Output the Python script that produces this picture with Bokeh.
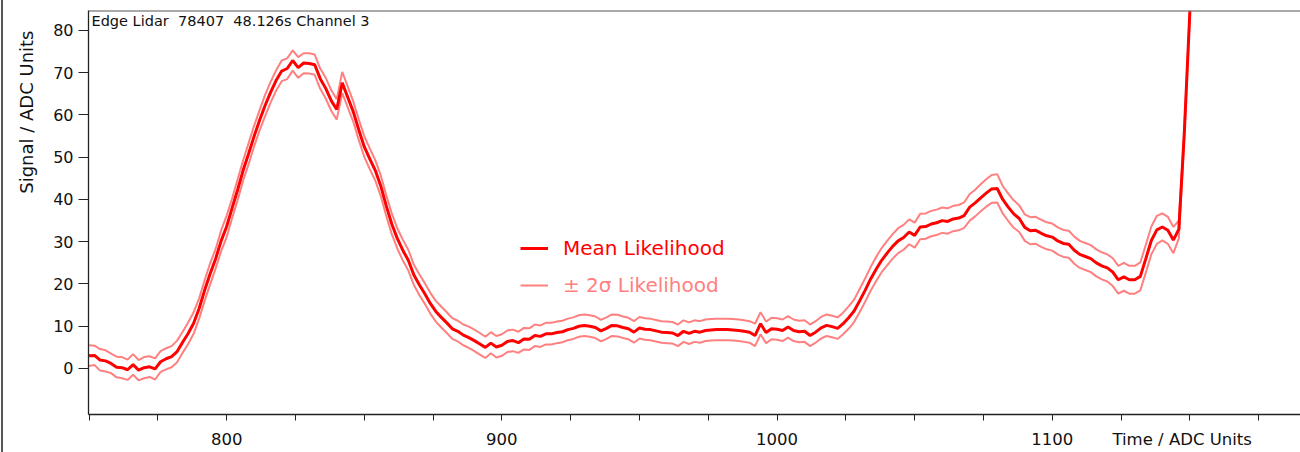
import math
from bokeh.plotting import figure
from bokeh.models import Range1d, FixedTicker, Label, Legend, LegendItem, Span, Title
from bokeh.embed import file_html
from bokeh.resources import INLINE

# ---- data ----
time_adc = list(range(750, 1151, 2))

mean_likelihood = [
    3.0, 3.1, 2.0, 1.8, 1.2, 0.3, 0.2, -0.3, 0.9, -0.4,          # 750
    0.2, 0.4, -0.1, 1.6, 2.3, 2.8, 4.0, 6.2, 8.3, 10.7,          # 770
    14.2, 18.5, 22.4, 26.0, 30.2, 33.6, 38.0, 42.3, 46.9, 50.9,  # 790
    55.0, 58.8, 62.3, 65.4, 68.2, 70.4, 71.0, 72.9, 71.2, 72.3,  # 810
    72.2, 71.9, 68.6, 66.3, 63.4, 61.3, 67.6, 64.2, 60.8, 56.5,  # 830
    52.5, 49.6, 46.9, 43.2, 38.5, 34.2, 30.8, 28.0, 25.6, 22.2,  # 850
    19.8, 17.7, 15.4, 13.5, 12.1, 10.8, 9.4, 8.8, 7.9, 7.3,      # 870
    6.6, 5.8, 5.0, 6.0, 5.1, 5.5, 6.4, 6.6, 6.1, 7.0,            # 890
    6.9, 7.8, 7.6, 8.2, 8.2, 8.5, 8.7, 9.2, 9.5, 10.0,           # 910
    10.2, 10.0, 9.7, 8.9, 9.5, 10.2, 10.1, 9.7, 9.4, 8.6,        # 930
    9.6, 9.3, 9.2, 8.9, 8.6, 8.5, 8.4, 7.8, 8.8, 8.3,            # 950
    8.8, 8.6, 9.0, 9.1, 9.2, 9.2, 9.2, 9.1, 9.0, 8.8,            # 970
    8.6, 7.8, 10.6, 8.5, 9.4, 9.3, 9.0, 9.8, 9.0, 8.7,           # 990
    8.8, 7.8, 8.6, 9.6, 10.2, 9.9, 9.5, 10.6, 12.0, 13.6,        # 1010
    16.0, 18.5, 21.2, 23.5, 25.6, 27.3, 28.9, 30.2, 31.0, 32.3,  # 1030
    31.5, 33.5, 33.6, 34.2, 34.5, 35.0, 34.8, 35.4, 35.6, 36.2,  # 1050
    38.2, 39.2, 40.4, 41.5, 42.5, 42.6, 40.0, 38.2, 36.6, 35.5,  # 1070
    33.4, 32.6, 32.7, 32.0, 31.4, 31.1, 30.2, 29.6, 29.4, 28.0,  # 1090
    27.0, 26.5, 26.0, 25.0, 24.3, 23.8, 22.8, 21.0, 21.7, 21.0,  # 1110
    21.0, 21.8, 26.0, 30.3, 32.8, 33.5, 32.7, 30.4, 33.0, 56.0,  # 1130
    84.5,                                                        # 1150
]

upper_2sigma = [
    5.5, 5.4, 4.6, 4.3, 3.5, 2.8, 2.7, 2.1, 3.4, 2.0,
    2.7, 2.9, 2.4, 4.1, 4.8, 5.3, 6.6, 8.7, 10.9, 13.3,
    16.6, 20.9, 24.9, 28.3, 32.7, 36.2, 40.3, 44.8, 49.3, 53.4,
    57.5, 61.2, 64.8, 67.9, 70.6, 72.9, 73.4, 75.3, 73.7, 74.6,
    74.6, 74.3, 71.0, 68.8, 65.9, 63.7, 70.2, 66.7, 63.2, 59.0,
    55.0, 52.1, 49.3, 45.7, 41.0, 36.7, 33.2, 30.5, 28.1, 24.6,
    22.3, 20.2, 17.9, 16.0, 14.6, 13.3, 11.9, 11.3, 10.4, 9.9,
    9.2, 8.4, 7.5, 8.6, 7.7, 8.1, 9.0, 9.2, 8.7, 9.6,
    9.5, 10.4, 10.2, 10.8, 10.8, 11.1, 11.3, 11.8, 12.1, 12.6,
    12.8, 12.6, 12.3, 11.5, 12.1, 12.8, 12.7, 12.3, 12.0, 11.2,
    12.2, 11.9, 11.8, 11.5, 11.2, 11.1, 11.0, 10.4, 11.4, 10.9,
    11.4, 11.2, 11.6, 11.7, 11.8, 11.8, 11.8, 11.7, 11.6, 11.4,
    11.2, 10.6, 13.3, 11.1, 12.0, 11.9, 11.6, 12.4, 11.6, 11.3,
    11.4, 10.4, 11.2, 12.2, 12.8, 12.5, 12.1, 13.2, 14.7, 16.3,
    18.8, 21.3, 24.0, 26.4, 28.5, 30.2, 31.8, 33.2, 34.0, 35.3,
    34.5, 36.6, 36.7, 37.3, 37.6, 38.1, 37.9, 38.5, 38.7, 39.3,
    41.3, 42.3, 43.6, 44.8, 45.8, 46.0, 43.2, 41.4, 39.8, 38.6,
    36.5, 35.8, 35.9, 35.2, 34.6, 34.3, 33.4, 32.8, 32.6, 31.2,
    30.2, 29.7, 29.2, 28.2, 27.5, 27.0, 26.1, 24.3, 25.0, 24.3,
    24.3, 25.1, 29.3, 33.6, 36.1, 36.7, 35.9, 33.5, 35.0, 56.8,
    85.0,
]

lower_2sigma = [
    0.6, 0.8, -0.5, -0.7, -1.1, -2.1, -2.3, -2.7, -1.5, -2.8,
    -2.3, -2.0, -2.6, -0.8, -0.2, 0.3, 1.5, 3.7, 5.8, 8.2,
    11.8, 16.0, 19.9, 23.7, 27.8, 31.1, 35.6, 39.9, 44.5, 48.4,
    52.6, 56.4, 59.8, 63.0, 65.8, 68.0, 68.5, 70.5, 68.8, 69.9,
    69.8, 69.5, 66.2, 63.9, 61.0, 58.9, 65.2, 61.8, 58.4, 54.1,
    50.1, 47.2, 44.5, 40.8, 36.1, 31.8, 28.4, 25.6, 23.2, 19.8,
    17.4, 15.3, 13.0, 11.1, 9.7, 8.4, 7.0, 6.4, 5.5, 4.9,
    4.1, 3.3, 2.5, 3.6, 2.6, 3.0, 3.9, 4.1, 3.7, 4.5,
    4.4, 5.3, 5.1, 5.7, 5.7, 6.0, 6.2, 6.7, 7.0, 7.5,
    7.7, 7.5, 7.2, 6.4, 7.0, 7.7, 7.6, 7.2, 6.9, 6.1,
    7.1, 6.8, 6.7, 6.4, 6.1, 6.0, 5.9, 5.3, 6.3, 5.8,
    6.3, 6.1, 6.5, 6.6, 6.7, 6.7, 6.7, 6.6, 6.5, 6.3,
    6.1, 5.3, 8.1, 6.0, 6.9, 6.8, 6.5, 7.3, 6.5, 6.2,
    6.3, 5.3, 6.1, 7.1, 7.7, 7.4, 7.0, 8.1, 9.4, 11.0,
    13.3, 15.8, 18.4, 20.7, 22.8, 24.4, 26.0, 27.3, 28.1, 29.4,
    28.6, 30.6, 30.7, 31.3, 31.6, 32.1, 31.9, 32.5, 32.7, 33.3,
    35.0, 36.0, 37.2, 38.3, 39.2, 39.3, 36.7, 34.9, 33.3, 32.3,
    30.2, 29.4, 29.5, 28.8, 28.2, 27.9, 27.0, 26.4, 26.2, 24.8,
    23.8, 23.3, 22.8, 21.8, 21.1, 20.6, 19.5, 17.7, 18.4, 17.7,
    17.7, 18.5, 22.7, 27.0, 29.5, 30.3, 29.5, 27.3, 30.8, 55.2,
    84.0,
]

x_tick_labels = {800: "800", 900: "900", 1000: "1000", 1100: "1100"}
x_ticks_all = [750, 775, 800, 825, 850, 875, 900, 925, 950, 975, 1000,
               1025, 1050, 1075, 1100, 1125, 1150, 1175]
y_ticks = [0, 10, 20, 30, 40, 50, 60, 70, 80]

title_text = "Edge Lidar \u00a078407 \u00a048.126s Channel 3"
x_label = "Time / ADC Units"
x_label_at = 1147.2
y_label = "Signal / ADC Units"
mean_label = "Mean Likelihood"
band_label = "± 2σ Likelihood"

assert len(time_adc) == len(mean_likelihood) == len(upper_2sigma) == len(lower_2sigma)

FONT = "DejaVu Sans"
AXIS = "#222222"

p = figure(width=1300, height=452, output_backend="svg", toolbar_location=None,
           x_range=Range1d(749.8, 1190.2), y_range=Range1d(-10.89, 84.73),
           min_border_left=88, min_border_right=0, min_border_top=10, min_border_bottom=38)
p.grid.visible = False
p.outline_line_color = None
p.background_fill_color = "white"
p.border_fill_color = "white"
p.border_fill_alpha = 0
p.styles = {"background": "linear-gradient(to right, #ffffff 0px, #ffffff 1px, #555555 1px, #555555 3px, #ffffff 3px)"}

r_up = p.line(time_adc, upper_2sigma, line_color="#ff8080", line_width=2)
r_lo = p.line(time_adc, lower_2sigma, line_color="#ff8080", line_width=2)
r_mean = p.line(time_adc, mean_likelihood, line_color="#ff0000", line_width=3)

# x axis: visible tick marks are the (minor) 25-unit ticks; labelled majors carry the text
xa = p.xaxis[0]
major_x = list(x_tick_labels.keys()) + [x_label_at]
overrides = {k: v for k, v in x_tick_labels.items()}
overrides[x_label_at] = x_label
xa.ticker = FixedTicker(ticks=major_x, minor_ticks=x_ticks_all)
xa.major_label_overrides = overrides
xa.major_tick_line_color = None
xa.major_tick_out = 6
xa.major_tick_in = 0
xa.minor_tick_out = 6
xa.minor_tick_in = 0
xa.minor_tick_line_color = AXIS
xa.axis_line_color = AXIS
xa.axis_line_width = 1.3
xa.major_label_text_font = FONT
xa.major_label_text_font_size = "16.5px"
xa.major_label_text_color = "#111111"
xa.major_label_standoff = 9

ya = p.yaxis[0]
ya.ticker = FixedTicker(ticks=y_ticks, minor_ticks=[])
ya.major_tick_out = 10
ya.major_tick_in = 0
ya.minor_tick_line_color = None
ya.major_tick_line_color = AXIS
ya.axis_line_color = AXIS
ya.axis_line_width = 1.3
ya.major_label_text_font = FONT
ya.major_label_text_font_size = "16px"
ya.major_label_text_color = "#111111"
ya.major_label_standoff = 5

p.add_layout(Title(text=y_label, align="right", offset=20, vertical_align="middle",
                   standoff=26, text_font=FONT, text_font_size="18px",
                   text_font_style="normal", text_color="#111111"), "left")

p.add_layout(Span(location=84.73, dimension="width", line_color="#555555", line_width=2))

p.add_layout(Label(x=3, y=402, x_units="screen", y_units="screen", text=title_text,
                   text_font=FONT, text_font_size="14.5px", text_align="left",
                   text_baseline="top", text_color="#111111"))

def make_legend(item, loc, color):
    leg = Legend(items=[item], location=loc)
    leg.border_line_color = None
    leg.background_fill_alpha = 0
    leg.padding = 0
    leg.margin = 0
    leg.spacing = 0
    leg.glyph_width = 28
    leg.glyph_height = 24
    leg.label_height = 24
    leg.label_standoff = 15
    leg.label_text_font = FONT
    leg.label_text_font_size = "20px"
    leg.label_text_color = color
    return leg

p.add_layout(make_legend(LegendItem(label=mean_label, renderers=[r_mean]), (432, 154), "#ff0000"))
p.add_layout(make_legend(LegendItem(label=band_label, renderers=[r_up]), (432, 117), "#ff8080"))

open("out.html", "w").write(file_html(p, INLINE))
